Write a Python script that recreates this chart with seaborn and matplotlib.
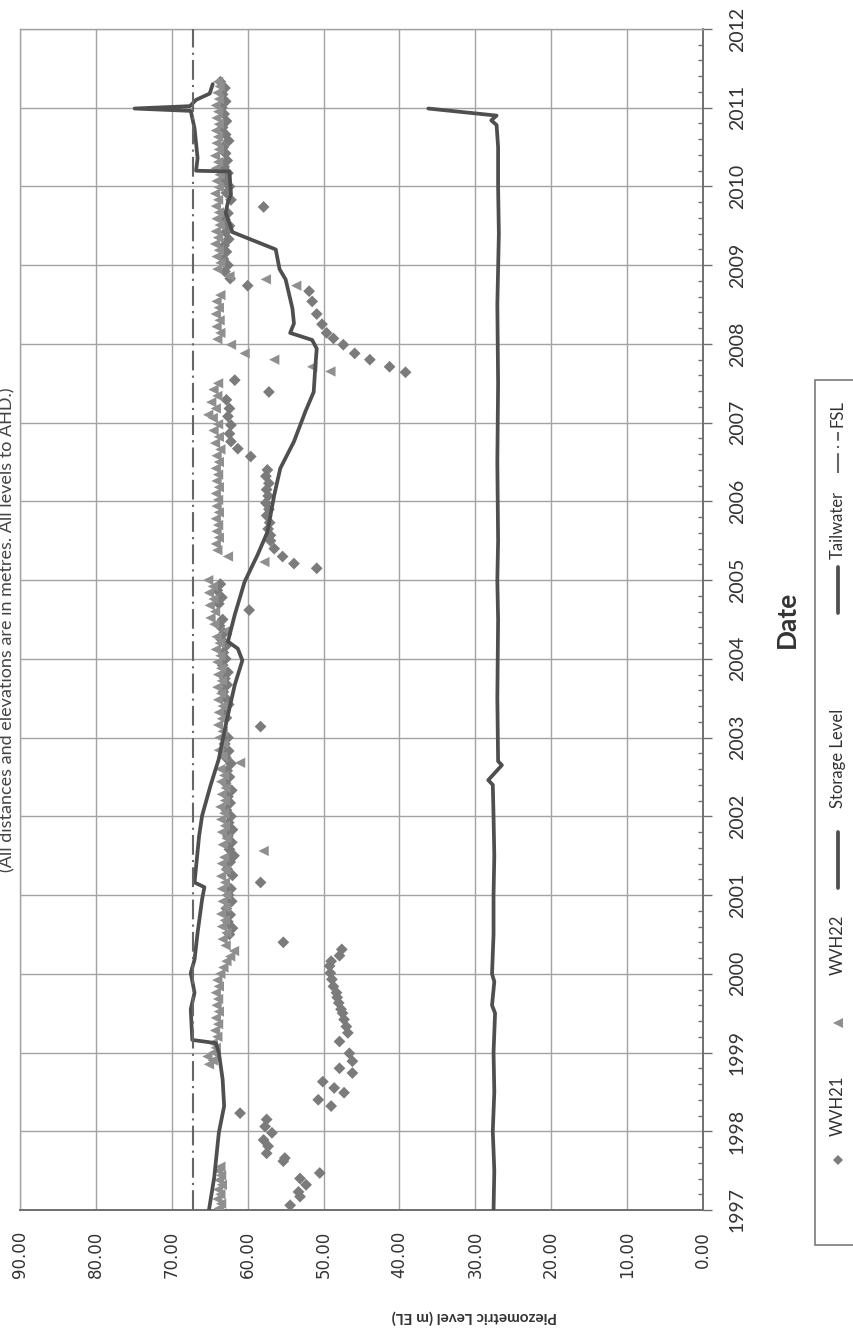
import numpy as np
import matplotlib
matplotlib.use('Agg')
import matplotlib.pyplot as plt
import seaborn as sns
from matplotlib.lines import Line2D
from matplotlib.patches import Rectangle
from matplotlib.ticker import MultipleLocator, FormatStrFormatter

# The page is scanned sideways: level runs right->left, dates run bottom->top.
OUTPUT_IMAGE = 'out.png'
W, H = 854, 1334

TITLE = '(All distances and elevations are in metres. All levels to AHD.)'
X_TITLE = 'Piezometric Level (m EL)'
Y_TITLE = 'Date'
SERIES_NAMES = ['WVH21', 'WVH22', 'Storage Level', 'Tailwater', 'FSL']

level_ticks = [90, 80, 70, 60, 50, 40, 30, 20, 10, 0]
year_ticks = list(range(1997, 2013))
FSL = 67.2

wvh21_year = [1997.06, 1997.17, 1997.23, 1997.32, 1997.40, 1997.47, 1997.62, 1997.66, 1997.72, 1997.81,
              1997.89, 1997.98, 1998.06, 1998.15, 1998.23, 1998.32, 1998.40, 1998.49, 1998.55, 1998.63,
              1998.74, 1998.80, 1998.89, 1998.99, 1999.14, 1999.25, 1999.33, 1999.42, 1999.50, 1999.55,
              1999.63, 1999.70, 1999.76, 1999.84, 1999.93, 2000.01, 2000.10, 2000.16, 2000.23, 2000.31,
              2000.40, 2000.50, 2000.58, 2000.66, 2000.75, 2000.83, 2000.92, 2001.00, 2001.08, 2001.16,
              2001.25, 2001.33, 2001.42, 2001.50, 2001.58, 2001.67, 2001.75, 2001.83, 2001.92, 2002.00,
              2002.08, 2002.17, 2002.25, 2002.33, 2002.42, 2002.50, 2002.58, 2002.67, 2002.75, 2002.83,
              2002.92, 2003.00, 2003.14, 2003.25, 2003.33, 2003.42, 2003.50, 2003.58, 2003.67, 2003.75,
              2003.83, 2003.92, 2004.00, 2004.08, 2004.17, 2004.25, 2004.33, 2004.42, 2004.50, 2004.62,
              2004.70, 2004.78, 2004.87, 2004.95, 2005.15, 2005.21, 2005.30, 2005.40, 2005.50, 2005.57,
              2005.65, 2005.73, 2005.82, 2005.90, 2005.98, 2006.07, 2006.15, 2006.23, 2006.32, 2006.40,
              2006.57, 2006.67, 2006.76, 2006.86, 2006.97, 2007.08, 2007.18, 2007.29, 2007.39, 2007.54,
              2007.64, 2007.71, 2007.80, 2007.88, 2007.99, 2008.07, 2008.14, 2008.25, 2008.38, 2008.54,
              2008.67, 2008.74, 2008.83, 2008.92, 2009.00, 2009.08, 2009.17, 2009.25, 2009.33, 2009.42,
              2009.50, 2009.58, 2009.66, 2009.74, 2009.83, 2009.92, 2010.00, 2010.08, 2010.17, 2010.25,
              2010.33, 2010.42, 2010.50, 2010.58, 2010.66, 2010.75, 2010.83, 2010.92, 2011.00, 2011.08,
              2011.17, 2011.25, 2011.33]
wvh21_level = [54.4, 53.1, 53.3, 52.3, 53.1, 50.5, 55.3, 55.1, 57.5, 57.3,
               57.9, 56.8, 57.7, 57.5, 61.0, 49.0, 50.7, 47.3, 48.6, 50.1,
               46.2, 47.9, 46.2, 46.6, 47.9, 46.8, 47.0, 47.3, 47.5, 47.7,
               48.0, 48.2, 48.3, 48.7, 48.9, 49.1, 49.2, 49.0, 47.9, 47.6,
               55.3, 62.4, 62.0, 62.6, 62.3, 62.8, 62.1, 62.5, 62.2, 58.3,
               62.0, 62.7, 62.3, 61.8, 62.4, 62.1, 62.6, 62.0, 62.5, 62.2,
               62.8, 62.3, 62.6, 62.1, 62.9, 62.4, 62.7, 62.2, 62.9, 62.5,
               63.0, 62.6, 58.3, 62.8, 63.1, 62.5, 62.9, 63.2, 62.7, 63.0,
               62.6, 63.3, 62.9, 63.2, 62.8, 63.5, 63.1, 63.7, 63.3, 59.8,
               63.8, 63.4, 64.0, 63.6, 50.9, 53.9, 55.4, 56.5, 57.0, 57.0,
               57.3, 57.1, 57.5, 57.2, 57.6, 57.3, 57.5, 57.2, 57.6, 57.4,
               59.6, 61.3, 62.2, 62.4, 62.2, 62.6, 62.4, 62.8, 57.2, 61.7,
               39.2, 41.3, 43.9, 45.9, 47.4, 48.7, 49.6, 50.2, 50.9, 51.5,
               51.9, 60.0, 62.3, 63.0, 62.6, 63.2, 62.8, 63.1, 62.5, 62.9,
               62.4, 63.0, 62.6, 57.9, 62.2, 62.8, 62.4, 63.0, 62.6, 63.1,
               62.7, 62.9, 63.2, 62.5, 62.9, 63.3, 62.8, 63.1, 63.4, 62.9,
               63.3, 63.0, 63.6]

wvh22_year = [1997.02, 1997.08, 1997.14, 1997.20, 1997.26, 1997.32, 1997.38, 1997.44, 1997.50, 1997.55,
              1998.85, 1998.90, 1998.95, 1999.00, 1999.06, 1999.12, 1999.20, 1999.28, 1999.36, 1999.44,
              1999.52, 1999.60, 1999.68, 1999.76, 1999.84, 1999.92, 2000.00, 2000.08, 2000.16, 2000.22,
              2000.29, 2000.36, 2000.44, 2000.52, 2000.60, 2000.68, 2000.76, 2000.84, 2000.92, 2001.00,
              2001.08, 2001.16, 2001.24, 2001.32, 2001.40, 2001.48, 2001.56, 2001.64, 2001.72, 2001.80,
              2001.88, 2001.96, 2002.04, 2002.12, 2002.20, 2002.28, 2002.36, 2002.44, 2002.52, 2002.60,
              2002.68, 2002.76, 2002.84, 2002.92, 2003.00, 2003.08, 2003.16, 2003.24, 2003.32, 2003.40,
              2003.48, 2003.56, 2003.64, 2003.72, 2003.80, 2003.88, 2003.96, 2004.04, 2004.12, 2004.20,
              2004.28, 2004.36, 2004.44, 2004.52, 2004.60, 2004.68, 2004.76, 2004.84, 2004.92, 2005.00,
              2005.23, 2005.30, 2005.38, 2005.46, 2005.54, 2005.62, 2005.70, 2005.78, 2005.86, 2005.94,
              2006.02, 2006.10, 2006.18, 2006.26, 2006.34, 2006.42, 2006.50, 2006.58, 2006.66, 2006.74,
              2006.82, 2006.90, 2006.98, 2007.06, 2007.10, 2007.18, 2007.26, 2007.34, 2007.42, 2007.50,
              2007.65, 2007.71, 2007.80, 2007.88, 2007.99, 2008.06, 2008.14, 2008.22, 2008.30, 2008.38,
              2008.46, 2008.54, 2008.62, 2008.74, 2008.82, 2008.86, 2008.95, 2009.03, 2009.11, 2009.19,
              2009.27, 2009.35, 2009.43, 2009.51, 2009.59, 2009.67, 2009.75, 2009.83, 2009.91, 2009.99,
              2010.07, 2010.15, 2010.23, 2010.31, 2010.39, 2010.47, 2010.55, 2010.63, 2010.71, 2010.79,
              2010.87, 2010.95, 2011.03, 2011.11, 2011.19, 2011.27, 2011.33]
wvh22_level = [63.8, 63.5, 64.0, 63.6, 63.9, 63.4, 63.8, 63.5, 63.9, 63.6,
               65.1, 64.6, 65.3, 64.5, 64.2, 64.6, 64.0, 64.3, 63.9, 64.2,
               63.8, 64.1, 63.9, 64.2, 63.8, 64.0, 63.6, 63.2, 62.8, 62.3,
               61.8, 62.9, 63.3, 62.8, 63.4, 63.0, 63.5, 62.9, 63.3, 62.8,
               63.4, 63.0, 63.5, 62.9, 63.4, 63.1, 57.9, 63.3, 62.8, 63.4,
               63.0, 63.5, 63.1, 63.6, 63.0, 63.4, 62.9, 63.5, 63.1, 63.6,
               61.0, 63.3, 63.8, 63.2, 63.7, 63.3, 63.9, 63.4, 63.8, 63.3,
               63.9, 63.5, 64.0, 63.4, 63.9, 63.5, 64.0, 63.6, 64.2, 63.7,
               64.1, 62.8, 64.4, 64.9, 64.3, 65.0, 64.5, 65.1, 64.6, 65.2,
               57.8, 62.6, 64.0, 64.2, 63.8, 64.1, 63.9, 64.2, 63.8, 64.1,
               63.9, 64.2, 63.8, 64.1, 63.9, 64.2, 63.8, 64.1, 63.6, 64.3,
               63.8, 64.5, 63.9, 64.6, 65.2, 64.2, 64.8, 64.0, 64.5, 63.9,
               49.1, 51.5, 56.5, 60.4, 62.2, 64.0, 63.6, 64.1, 63.7, 64.2,
               63.8, 64.1, 63.6, 53.6, 57.6, 62.4, 64.0, 63.6, 64.1, 63.8,
               64.3, 63.9, 64.2, 63.7, 64.1, 63.8, 64.2, 63.9, 64.3, 63.8,
               64.1, 63.7, 64.2, 63.9, 64.3, 63.8, 64.1, 63.9, 64.2, 63.8,
               64.1, 63.9, 64.2, 63.8, 64.0, 63.7, 63.9]

storage_year = [1997.00, 1997.42, 1997.98, 1998.32, 1998.66, 1999.00, 1999.12, 1999.16, 1999.55, 1999.76,
                2000.01, 2000.18, 2000.52, 2000.95, 2001.10, 2001.16, 2001.75, 2002.01, 2002.39, 2002.73,
                2003.20, 2003.67, 2003.98, 2004.13, 2004.22, 2004.56, 2004.98, 2005.32, 2005.61, 2006.08,
                2006.42, 2006.76, 2007.14, 2007.39, 2007.69, 2007.94, 2008.05, 2008.14, 2008.26, 2008.45,
                2008.82, 2008.95, 2009.20, 2009.42, 2009.67, 2009.80, 2009.90, 2010.19, 2010.20, 2010.36,
                2010.74, 2010.96, 2010.99, 2011.02, 2011.10, 2011.18, 2011.30]
storage_level = [65.1, 64.4, 63.8, 63.1, 63.3, 63.8, 64.2, 67.3, 67.5, 67.0,
                 67.5, 67.0, 66.6, 66.0, 65.7, 67.0, 66.4, 66.0, 64.9, 63.8,
                 62.8, 61.7, 60.7, 61.3, 62.6, 61.7, 60.4, 58.7, 57.4, 56.5,
                 55.7, 53.9, 52.4, 51.3, 51.1, 50.9, 51.5, 54.4, 53.9, 54.1,
                 55.0, 55.8, 56.3, 62.0, 62.9, 62.6, 62.2, 62.4, 66.8, 66.6,
                 67.0, 67.5, 74.9, 67.6, 66.8, 65.0, 64.6]

tail_year = [1997.00, 1997.50, 1998.00, 1998.50, 1999.00, 1999.50, 1999.60, 1999.90, 2000.00, 2000.50,
             2001.00, 2001.50, 2002.00, 2002.40, 2002.46, 2002.65, 2002.70, 2003.50, 2004.50, 2005.00,
             2005.50, 2006.50, 2007.50, 2008.50, 2009.40, 2010.00, 2010.50, 2010.78, 2010.84, 2010.90,
             2010.99]
tail_level = [27.6, 27.5, 27.7, 27.5, 27.6, 27.4, 27.8, 27.5, 27.8, 27.6,
              27.6, 27.5, 27.6, 27.7, 28.3, 26.5, 27.0, 27.1, 27.0, 27.1,
              27.0, 27.1, 27.0, 27.1, 26.9, 27.0, 27.0, 27.2, 27.9, 27.2,
              36.2]

C_WVH21 = '#7b7b7b'
C_WVH22 = '#8f8f8f'
C_LINE = '#4f4f4f'
C_FSL = '#666666'
C_GRID = '#a3a3a3'
C_AXIS = '#6f6f6f'
FSL_DASH = (0, (9.5, 2.5, 1.0, 2.5))


def fx(px):
    return px / W


def fy(py):
    return 1 - py / H


sns.set_style('white')
plt.rcParams['font.family'] = ['Lato', 'DejaVu Sans']

fig = plt.figure(figsize=(W / 100, H / 100), dpi=100)
fig.patch.set_facecolor('white')

# plot area: x 20..703 px, y 29..1210 px
ax = fig.add_axes([fx(20), fy(1210), fx(703) - fx(20), fy(29) - fy(1210)])

sns.scatterplot(x=wvh21_level, y=wvh21_year, marker='D', s=36, color=C_WVH21,
                edgecolor='none', linewidth=0, ax=ax, zorder=3)
sns.scatterplot(x=wvh22_level, y=wvh22_year, marker='<', s=55, color=C_WVH22,
                edgecolor='none', linewidth=0, ax=ax, zorder=3)
sns.lineplot(x=storage_level, y=storage_year, sort=False, estimator=None,
             color=C_LINE, linewidth=2.7, ax=ax, zorder=4)
sns.lineplot(x=tail_level, y=tail_year, sort=False, estimator=None,
             color=C_LINE, linewidth=2.7, ax=ax, zorder=4)
ax.axvline(FSL, color=C_FSL, linewidth=1.5, linestyle=FSL_DASH, zorder=4)

ax.set_xlim(90, 0)
ax.set_ylim(1997, 2012)
ax.set_xticks(level_ticks)
ax.set_yticks(year_ticks)
ax.xaxis.set_minor_locator(MultipleLocator(2))
ax.yaxis.set_minor_locator(MultipleLocator(0.2))
ax.xaxis.set_major_formatter(FormatStrFormatter('%.2f'))
ax.yaxis.tick_right()
ax.yaxis.set_label_position('right')

ax.grid(True, which='major', color=C_GRID, linewidth=1.0)
ax.set_axisbelow(True)

for side in ['top', 'left']:
    ax.spines[side].set_color(C_GRID)
    ax.spines[side].set_linewidth(1.0)
for side in ['bottom', 'right']:
    ax.spines[side].set_color(C_AXIS)
    ax.spines[side].set_linewidth(1.4)

ax.tick_params(axis='x', which='major', direction='inout', length=10, width=1.0,
               color=C_AXIS, pad=10, labelrotation=90, labelsize=12, labelcolor='#333333')
ax.tick_params(axis='x', which='minor', direction='in', length=3.5, width=1.0, color=C_AXIS)
ax.tick_params(axis='y', which='major', direction='out', length=6.5, width=1.0,
               color=C_AXIS, pad=12, labelrotation=90, labelsize=14, labelcolor='#333333')
ax.tick_params(axis='y', which='minor', direction='in', length=3.5, width=1.0, color=C_AXIS)
for lab in ax.get_xticklabels():
    lab.set_family('DejaVu Sans')
for lab in ax.get_yticklabels():
    lab.set_verticalalignment('center')

ax.set_xlabel(X_TITLE, rotation=180, fontsize=11, fontweight='bold', color='#333333')
ax.xaxis.set_label_coords((474 - 20) / 683, (1210 - 1317) / 1181)
ax.set_ylabel(Y_TITLE, rotation=90, fontsize=19, fontweight='bold', color='#333333')
ax.yaxis.set_label_coords((787 - 20) / 683, 0.5)
ax.xaxis.label.set_verticalalignment('center')
ax.yaxis.label.set_verticalalignment('center')

# title at the page's edge, partly cut off
fig.text(fx(7), fy(630), TITLE, rotation=90, ha='center', va='center',
         fontsize=13, color='#444444')

# legend box, drawn sideways like the rest of the page
fig.patches.append(Rectangle((fx(815), fy(1245)), fx(880) - fx(815), fy(380) - fy(1245),
                             transform=fig.transFigure, facecolor='white',
                             edgecolor='#7a7a7a', linewidth=1.2, zorder=5))
lx = 838
fig.lines.append(Line2D([fx(lx)], [fy(1160)], marker='D', markersize=5.5, color=C_WVH21,
                        markeredgewidth=0, linestyle='none', transform=fig.transFigure, zorder=6))
fig.lines.append(Line2D([fx(lx)], [fy(1023)], marker='<', markersize=7.5, color=C_WVH22,
                        markeredgewidth=0, linestyle='none', transform=fig.transFigure, zorder=6))
fig.lines.append(Line2D([fx(lx), fx(lx)], [fy(888), fy(832)], color=C_LINE, linewidth=2.7,
                        transform=fig.transFigure, zorder=6))
fig.lines.append(Line2D([fx(lx), fx(lx)], [fy(613), fy(567)], color=C_LINE, linewidth=2.7,
                        transform=fig.transFigure, zorder=6))
fig.lines.append(Line2D([fx(lx), fx(lx)], [fy(473), fy(432)], color=C_FSL, linewidth=1.5,
                        linestyle=FSL_DASH, transform=fig.transFigure, zorder=6))
for name, ypx in zip(SERIES_NAMES, [1106, 945, 758, 525, 414]):
    fig.text(fx(lx), fy(ypx), name, rotation=90, ha='center', va='center',
             fontsize=12, color='#333333', zorder=7)

fig.savefig(OUTPUT_IMAGE, dpi=100, facecolor='white')
